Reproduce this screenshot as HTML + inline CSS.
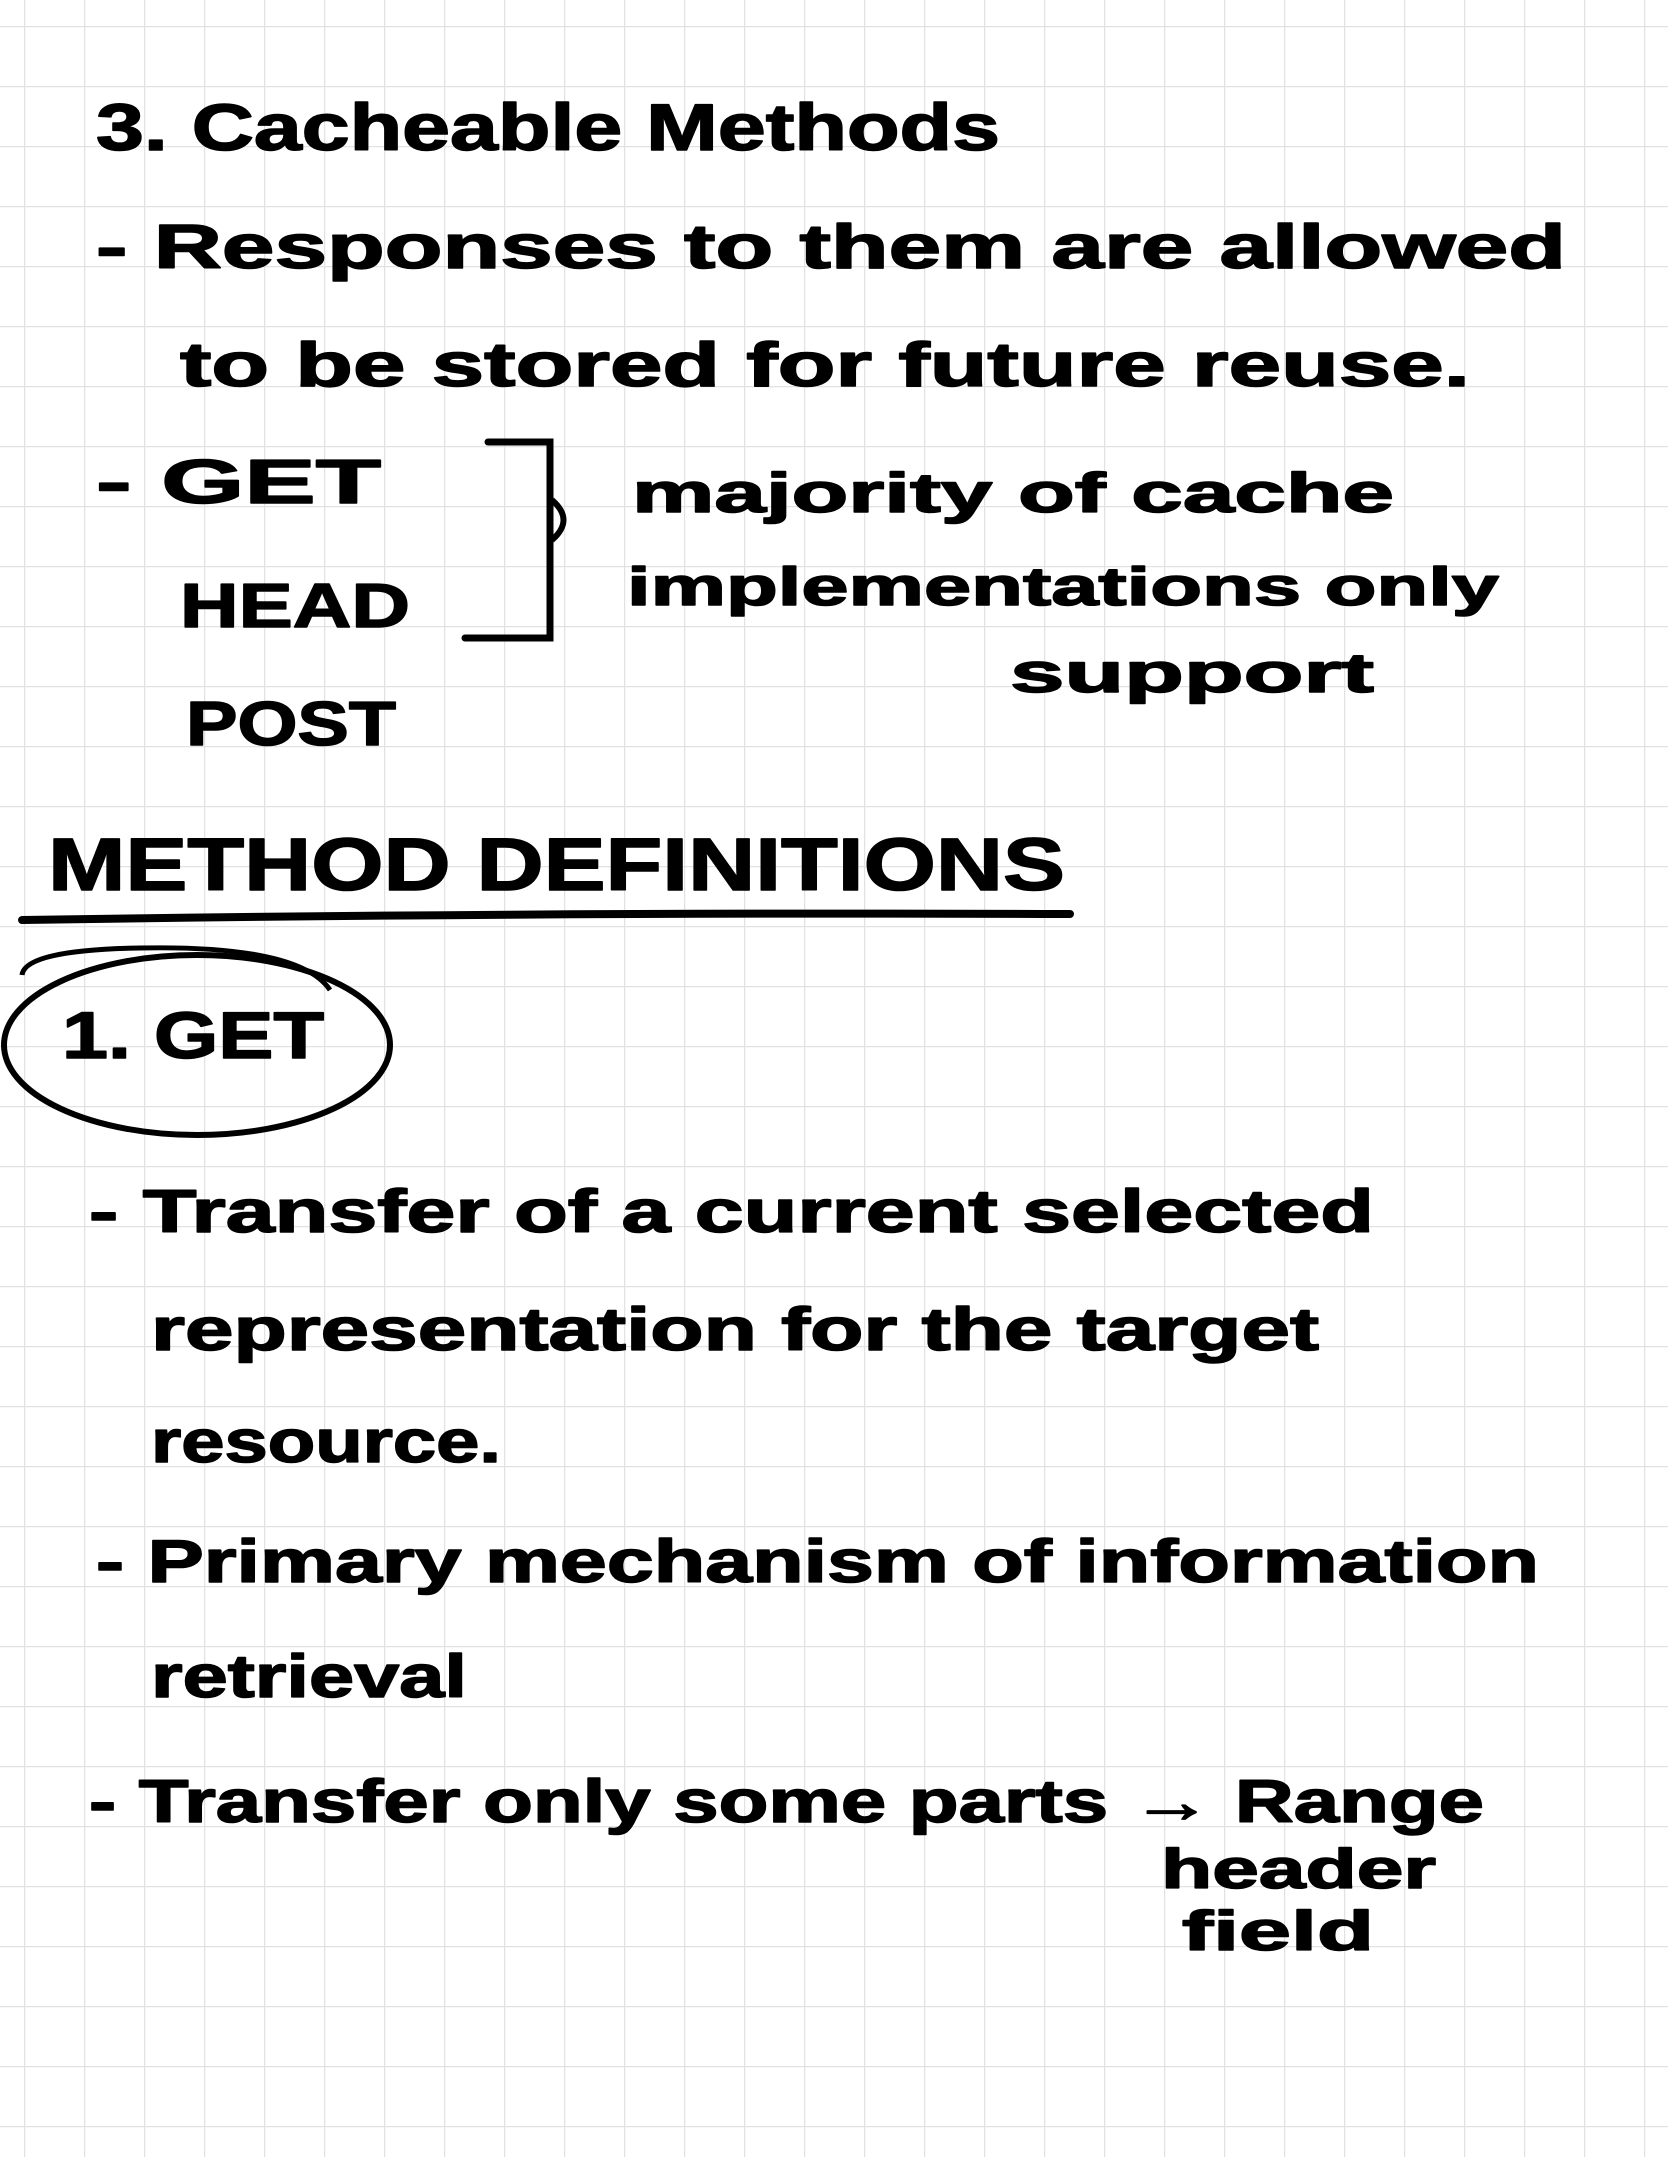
<!DOCTYPE html>
<html><head><meta charset="utf-8"><style>
html,body{margin:0;padding:0;background:#fff}
svg{display:block}
text{font-family:"Liberation Sans",sans-serif;font-weight:bold;fill:#000;stroke:#000;stroke-width:1.5;stroke-linejoin:round}
</style></head><body>
<svg width="1668" height="2157" viewBox="0 0 1668 2157" xmlns="http://www.w3.org/2000/svg">
<defs>
<pattern id="g" x="24" y="26" width="60" height="60" patternUnits="userSpaceOnUse">
<path d="M0 0H60M0 0V60" stroke="#e2e2e2" stroke-width="2.5" fill="none"/>
</pattern>
</defs>
<rect width="1668" height="2157" fill="#fff"/>
<rect x="-1" y="-1" width="1670" height="2160" fill="url(#g)"/>

<text x="96" y="150" font-size="66" textLength="904" lengthAdjust="spacingAndGlyphs">3. Cacheable   Methods</text>
<text x="96" y="268" font-size="62" textLength="1470" lengthAdjust="spacingAndGlyphs">- Responses  to   them are allowed</text>
<text x="180" y="386" font-size="62" textLength="1290" lengthAdjust="spacingAndGlyphs">to be stored for future  reuse.</text>
<text x="96" y="503" font-size="62" textLength="285" lengthAdjust="spacingAndGlyphs">- GET</text>
<text x="180" y="627" font-size="62" textLength="230" lengthAdjust="spacingAndGlyphs">HEAD</text>
<text x="186" y="745" font-size="62" textLength="210" lengthAdjust="spacingAndGlyphs">POST</text>

<path d="M488 442 H550 V638 H465" stroke="#000" stroke-width="7" fill="none" stroke-linecap="round"/>
<path d="M552 500 Q575 520 552 540" stroke="#000" stroke-width="6" fill="none"/>

<text x="632" y="512" font-size="56" textLength="762" lengthAdjust="spacingAndGlyphs">majority of cache</text>
<text x="627" y="605" font-size="54" textLength="872" lengthAdjust="spacingAndGlyphs">implementations only</text>
<text x="1010" y="692" font-size="56" textLength="364" lengthAdjust="spacingAndGlyphs">support</text>

<text x="48" y="890" font-size="74" textLength="1017" lengthAdjust="spacingAndGlyphs">METHOD  DEFINITIONS</text>
<path d="M22 920 Q540 912 1070 914" stroke="#000" stroke-width="8" fill="none" stroke-linecap="round"/>

<path d="M22 975 Q25 950 140 948 Q300 945 330 990" stroke="#000" stroke-width="5" fill="none"/>
<ellipse cx="197" cy="1045" rx="193" ry="90" stroke="#000" stroke-width="6" fill="none"/>
<text x="62" y="1058" font-size="66" textLength="262" lengthAdjust="spacingAndGlyphs">1. GET</text>

<text x="89" y="1232" font-size="60" textLength="1285" lengthAdjust="spacingAndGlyphs">- Transfer of a  current selected</text>
<text x="151" y="1350" font-size="60" textLength="1168" lengthAdjust="spacingAndGlyphs">representation  for the  target</text>
<text x="151" y="1462" font-size="60" textLength="350" lengthAdjust="spacingAndGlyphs">resource.</text>
<text x="96" y="1582" font-size="60" textLength="1443" lengthAdjust="spacingAndGlyphs">- Primary  mechanism  of  information</text>
<text x="151" y="1697" font-size="60" textLength="316" lengthAdjust="spacingAndGlyphs">retrieval</text>
<text x="89" y="1822" font-size="60" textLength="1395" lengthAdjust="spacingAndGlyphs">- Transfer  only some  parts → Range</text>
<text x="1161" y="1888" font-size="56" textLength="275" lengthAdjust="spacingAndGlyphs">header</text>
<text x="1182" y="1950" font-size="56" textLength="192" lengthAdjust="spacingAndGlyphs">field</text>
</svg>
</body></html>
